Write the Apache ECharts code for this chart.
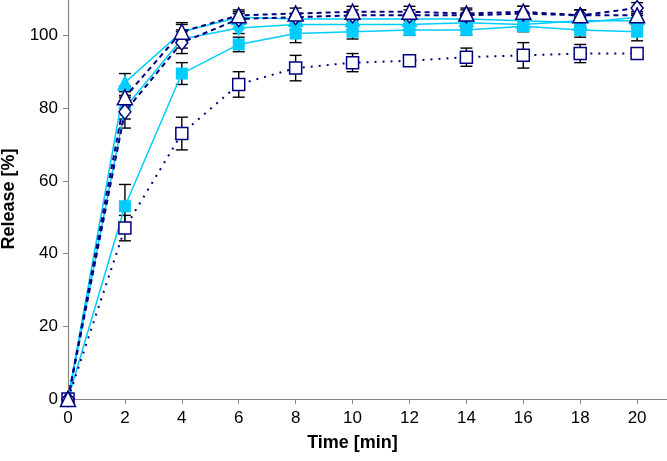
<!DOCTYPE html>
<html><head><meta charset="utf-8">
<script src="https://cdn.jsdelivr.net/npm/echarts@6/dist/echarts.min.js"></script>
<style>html,body{margin:0;padding:0;background:#fff}#c{width:667px;height:461px}</style>
</head><body><div id="c"></div>
<script>
const times = [0, 2, 4, 6, 8, 10, 12, 14, 16, 18, 20];
const xTicks = [0, 2, 4, 6, 8, 10, 12, 14, 16, 18, 20];
const yTicks = [0, 20, 40, 60, 80, 100];

const triFilled    = [0, 87, 101, 105, 104.5, 104.5, 104.5, 104.5, 104, 103.5, 105];
const triFilledErr = [0, 2.5, 2, 1.5, 1.5, 1.5, 1.5, 1.5, 1.5, 1.5, 1.5];
const triOpen      = [0, 83, 101, 105.5, 106, 106.5, 106.5, 106, 106.5, 105.5, 105.5];
const triOpenErr   = [0, 3, 2.5, 1.5, 1.5, 1.5, 1.5, 1.5, 1.5, 1.5, 2];
const diaOpen      = [0, 79, 98, 104.5, 105, 105.5, 105.5, 105.5, 106, 105.5, 107.5];
const diaOpenErr   = [0, 4.5, 3, 1.5, 1, 1.5, 1.5, 1.5, 2, 1.5, 1.5];
const diaFilled    = [0, 80, 99, 102, 103, 103, 103, 103.5, 103, 104, 104];
const diaFilledErr = [0, 3, 2.5, 1.5, 1.5, 1.5, 1.5, 1.5, 1.5, 1.5, 1.5];
const sqFilled     = [0, 53, 89.5, 97.5, 100.5, 101, 101.5, 101.5, 102.5, 101.5, 101];
const sqFilledErr  = [0, 6, 3, 2, 2.5, 2, 1.5, 1.5, 1.5, 2, 2.5];
const sqOpen       = [0, 47, 73, 86.5, 91, 92.5, 93, 94, 94.5, 95, 95];
const sqOpenErr    = [0, 3.5, 4.5, 3.5, 3.5, 2.5, 1.5, 2.5, 3.5, 2.5, 1.5];

const CYAN = '#00CCFF', NAVY = '#000080';

function pts(vals){ return times.map((t,i)=>[t, vals[i]]); }
function errData(vals, errs){ return times.map((t,i)=>[t, vals[i]-errs[i], vals[i]+errs[i]]); }

function errSeries(vals, errs){
  return {
    type: 'custom', z: 1, silent: true,
    data: errData(vals, errs),
    renderItem: function(params, api){
      const x = api.value(0), lo = api.value(1), hi = api.value(2);
      if (hi - lo <= 0) return null;
      const p1 = api.coord([x, lo]), p2 = api.coord([x, hi]);
      const w = 6;
      const st = {stroke:'#000', lineWidth:1.4};
      return {type:'group', children:[
        {type:'line', shape:{x1:p1[0], y1:p1[1], x2:p2[0], y2:p2[1]}, style:st},
        {type:'line', shape:{x1:p1[0]-w, y1:p1[1], x2:p1[0]+w, y2:p1[1]}, style:st},
        {type:'line', shape:{x1:p2[0]-w, y1:p2[1], x2:p2[0]+w, y2:p2[1]}, style:st}
      ]};
    }
  };
}

function lineSeries(name, vals, symbol, size, filled, dash){
  return {
    name, type:'line', z: filled ? 2 : 3, data: pts(vals),
    symbol, symbolSize: size, showAllSymbol: true, clip: false,
    lineStyle: filled ? {color: CYAN, width: 1.5} : {color: NAVY, width: 2, type: dash},
    itemStyle: filled ? {color: CYAN, borderColor: CYAN, borderWidth: 0}
                      : {color: '#fff', borderColor: NAVY, borderWidth: 1.5},
    emphasis: {disabled: true}, animation: false
  };
}

const chart = echarts.init(document.getElementById('c'), null, {renderer:'canvas'});
chart.setOption({
  animation: false,
  grid: {left: 68, right: 0, top: -1, bottom: 62, containLabel: false, outerBoundsMode: 'none'},
  xAxis: {
    type: 'value', min: 0, max: 21.05, interval: 2,
    name: 'Time [min]', nameLocation: 'middle', nameGap: 35,
    nameTextStyle: {fontFamily: 'Liberation Sans, Arial', fontWeight: 'bold', fontSize: 18, color: '#000',
      padding: [0, 30, 0, 0]},
    axisLine: {lineStyle: {color: '#868686', width: 1.2}},
    axisTick: {show: true, inside: false, length: 5, lineStyle: {color: '#868686'},
      customValues: xTicks},
    axisLabel: {fontFamily: 'Liberation Sans, Arial', fontSize: 17, color: '#000', margin: 11,
      formatter: v => xTicks.includes(v) ? String(v) : '', showMaxLabel: false},
    splitLine: {show: false}
  },
  yAxis: {
    type: 'value', min: 0, max: 110, interval: 20,
    name: 'Release [%]', nameLocation: 'middle', nameGap: 50, nameRotate: 90,
    nameTextStyle: {fontFamily: 'Liberation Sans, Arial', fontWeight: 'bold', fontSize: 18, color: '#000'},
    axisLine: {show: true, lineStyle: {color: '#868686', width: 1.2}},
    axisTick: {show: true, inside: false, length: 5, lineStyle: {color: '#868686'}},
    axisLabel: {fontFamily: 'Liberation Sans, Arial', fontSize: 17, color: '#000', margin: 10,
      formatter: v => yTicks.includes(v) ? String(v) : ''},
    splitLine: {show: false}
  },
  series: [
    errSeries(triFilled, triFilledErr),
    errSeries(triOpen, triOpenErr),
    errSeries(diaOpen, diaOpenErr),
    errSeries(diaFilled, diaFilledErr),
    errSeries(sqFilled, sqFilledErr),
    errSeries(sqOpen, sqOpenErr),
    lineSeries('sqFilled', sqFilled, 'rect', 12, true),
    lineSeries('diaFilled', diaFilled, 'diamond', [13, 16], true),
    lineSeries('triFilled', triFilled, 'triangle', 16, true),
    lineSeries('sqOpen', sqOpen, 'rect', 12, false, [2, 6]),
    lineSeries('diaOpen', diaOpen, 'diamond', [12, 15], false, [5, 4]),
    lineSeries('triOpen', triOpen, 'triangle', 15, false, [5, 4])
  ]
});
</script></body></html>
